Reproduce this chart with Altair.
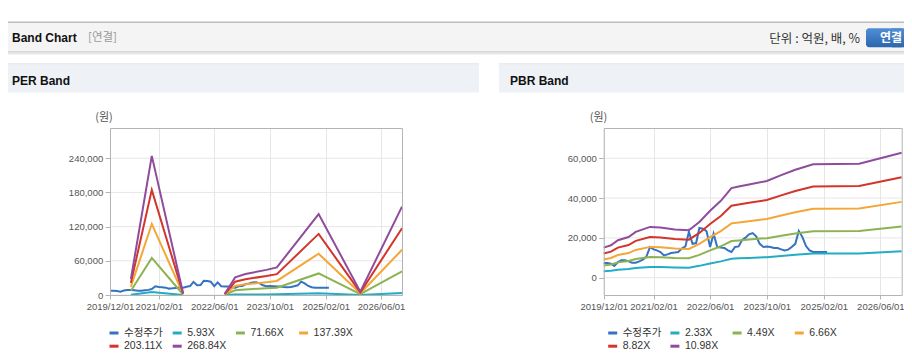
import altair as alt
import pandas as pd

FONT = "Liberation Sans, Noto Sans CJK KR, sans-serif"
KFONT = "Noto Sans CJK KR, Liberation Sans, sans-serif"
FRAME = "#b4b4b4"
GRID = "#e6e6e6"
LABEL = "#555555"

series_colors = ["#3472c2", "#22adc5", "#8db350", "#f4a637", "#d3342b", "#8f4c9c"]

# ---------------- x axis ----------------
x_start = (2019, 12, 1)
x_end = (2026, 12, 1)
tick_dates = [(2019, 12, 1), (2021, 2, 1), (2022, 6, 1), (2023, 10, 1), (2025, 2, 1), (2026, 6, 1)]

# ---------------- adjusted price (monthly from 2019-12) ----------------
price_start = "2019-12-01"
price = [7400, 7400, 7000, 5900, 7900, 8700, 8700, 8200, 7500, 7500,
         8200, 9000, 10500, 15400, 14200, 13700, 12900, 11200, 11700, 12400,
         12600, 12900, 14600, 15700, 23000, 17000, 17400, 25000, 24600, 23400,
         15400, 22100, 15400, 15100, 14900, 13700, 12900, 15400, 15700, 18800,
         20100, 21800, 22400, 20800, 17000, 15400, 15700, 15400, 14900, 14900,
         14200, 13700, 14100, 15400, 17000, 23400, 20400, 15900, 13700, 12900,
         12900, 12900, 12900, 12900]

# ---------------- PER band ----------------
per_names = ["수정주가", "5.93X", "71.66X", "137.39X", "203.11X", "268.84X"]
per_seg1_dates = ["2020-06-01", "2020-12-01", "2021-09-01"]
per_seg2_dates = ["2022-09-01", "2022-12-01", "2023-03-01", "2023-09-01",
                  "2023-12-01", "2024-12-01", "2025-12-01", "2026-12-01"]
per_593 = [[600, 5400, 100], [50, 700, 800, 1000, 1100, 3100, 130, 3400]]
per_7166 = [[7500, 65100, 900], [600, 8200, 9800, 11800, 12900, 37800, 1600, 41300]]
per_13739 = [[14400, 124700, 1600], [1100, 15800, 18800, 22500, 24700, 72500, 3000, 79300]]
per_20311 = [[21300, 184400, 2400], [1600, 23400, 27800, 33300, 36600, 107200, 4500, 117200]]
per_26884 = [[28200, 244100, 3200], [2200, 30900, 36800, 44100, 48400, 141900, 5900, 155100]]
per_yticks = [0, 60000, 120000, 180000, 240000]
per_ydomain = [0, 293000]

# ---------------- PBR band ----------------
pbr_names = ["수정주가", "2.33X", "4.49X", "6.66X", "8.82X", "10.98X"]
pbr_dates = ["2019-12-01", "2020-02-01", "2020-04-01", "2020-07-01", "2020-09-01",
             "2021-01-01", "2021-04-01", "2021-08-01", "2021-12-01", "2022-03-01",
             "2022-06-01", "2022-09-01", "2022-12-01", "2023-02-01", "2023-05-01",
             "2023-10-01", "2024-02-01", "2024-06-01", "2024-11-01", "2025-12-01",
             "2026-12-01"]
pbr_233 = [3200, 3460, 3990, 4330, 4880, 5410, 5350, 5140, 5050, 5940, 7130,
           8190, 9550, 9720, 9930, 10310, 10930, 11500, 12100, 12160, 13330]
pbr_449 = [6170, 6670, 7690, 8340, 9410, 10430, 10310, 9900, 9730, 11450, 13740,
           15780, 18400, 18730, 19140, 19870, 21060, 22160, 23310, 23430, 25680]
pbr_666 = [9160, 9890, 11400, 12370, 13950, 15470, 15290, 14680, 14440, 16980, 20380,
           23410, 27300, 27780, 28390, 29480, 31240, 32870, 34570, 34760, 38090]
pbr_882 = [12130, 13090, 15100, 16390, 18480, 20480, 20240, 19440, 19120, 22490, 26990,
           31010, 36150, 36790, 37590, 39040, 41370, 43540, 45790, 46030, 50450]
pbr_1098 = [15100, 16300, 18800, 20400, 23000, 25500, 25200, 24200, 23800, 28000, 33600,
            38600, 45000, 45800, 46800, 48600, 51500, 54200, 57000, 57300, 62800]
pbr_yticks = [0, 20000, 40000, 60000]
pbr_ydomain = [-8700, 75200]

# ---------------- build tables ----------------
price_dates = [d.strftime("%Y-%m-%d") for d in pd.date_range(price_start, periods=len(price), freq="MS")]


def price_rows():
    return [{"date": d, "value": v, "series": "수정주가", "seg": "p"} for d, v in zip(price_dates, price)]


rows = price_rows()
for name, vals in zip(per_names[1:], [per_593, per_7166, per_13739, per_20311, per_26884]):
    for d, v in zip(per_seg1_dates, vals[0]):
        rows.append({"date": d, "value": v, "series": name, "seg": "a"})
    for d, v in zip(per_seg2_dates, vals[1]):
        rows.append({"date": d, "value": v, "series": name, "seg": "b"})
per_df = pd.DataFrame(rows)

rows = price_rows()
for name, vals in zip(pbr_names[1:], [pbr_233, pbr_449, pbr_666, pbr_882, pbr_1098]):
    for d, v in zip(pbr_dates, vals):
        rows.append({"date": d, "value": v, "series": name, "seg": "a"})
pbr_df = pd.DataFrame(rows)

dummy = pd.DataFrame({"d": [0]})

# ---------------- geometry (page pixels -> view coords) ----------------
X0, Y0 = 110, 128          # page position of the plot origin
W_ALL, H = 792, 167        # view spans both panels
SVG_W, SVG_H = 896, 348    # stays inside the 8px page margins
RIGHT = 904                # right-most page pixel we can draw


def rx(p):
    return p - X0


def ry(p):
    return p - Y0


PER_RANGE = [0, 292]
PBR_RANGE = [rx(603.7), rx(901.7)]


def dt(t):
    return alt.DateTime(year=t[0], month=t[1], date=t[2], utc=True)


def rect(x1, x2, y1, y2, color, **kw):
    return alt.Chart(dummy).mark_rect(color=color, **kw).encode(
        x=alt.value(x1), x2=alt.value(x2), y=alt.value(y1), y2=alt.value(y2))


def label(t, x, y, **kw):
    return alt.Chart(dummy).mark_text(text=t, baseline="middle", **kw).encode(
        x=alt.value(x), y=alt.value(y))


def panel(df, names, ydomain, yticks, xrange, legend_x, y_offset):
    xscale = alt.Scale(type="utc", domain=[dt(x_start), dt(x_end)], range=xrange)
    yscale = alt.Scale(domain=ydomain, nice=False, zero=False, range=[H, 0])
    yaxis = alt.Axis(orient="left", offset=y_offset, values=yticks,
                     format=",.0f", title=None, domain=False, grid=False,
                     tickColor=FRAME, tickSize=5, labelPadding=2.3,
                     labelFont=FONT, labelFontSize=9.5, labelColor=LABEL)
    grid_df = pd.DataFrame({"value": yticks})
    grid = alt.Chart(grid_df).mark_rule(color=GRID, strokeWidth=1).encode(
        y=alt.Y("value:Q", scale=yscale, axis=yaxis),
        x=alt.value(xrange[0]), x2=alt.value(xrange[1]))
    frame = alt.Chart(dummy).mark_rect(fill="transparent", stroke=FRAME, strokeWidth=1).encode(
        x=alt.value(xrange[0] + 0.5), x2=alt.value(xrange[1] + 0.5),
        y=alt.value(0.5), y2=alt.value(H + 0.5))
    lines = alt.Chart(df).mark_line(strokeWidth=2).encode(
        x=alt.X("date:T", scale=xscale,
                axis=alt.Axis(orient="bottom", values=[dt(t) for t in tick_dates],
                              labelExpr="utcFormat(datum.value, '%Y/%m/%d')",
                              title=None, grid=True, gridColor=GRID,
                              domain=False, tickColor=FRAME, tickSize=4,
                              labelFont=FONT, labelFontSize=9.5, labelColor=LABEL,
                              labelBaseline="alphabetic", labelPadding=10.7,
                              labelFlush=False, labelOverlap=False)),
        y=alt.Y("value:Q", scale=yscale, axis=yaxis),
        color=alt.Color("series:N",
                        scale=alt.Scale(domain=names, range=series_colors),
                        legend=alt.Legend(title=None, orient="none", legendX=legend_x,
                                          legendY=H + 32, direction="horizontal",
                                          columns=4, symbolType="stroke", symbolSize=81,
                                          symbolStrokeWidth=3, labelFont=FONT,
                                          labelFontSize=10.5, labelColor="#333333",
                                          labelOffset=4, columnPadding=2.2,
                                          rowPadding=1.2, gridAlign="all", padding=0)),
        detail="seg:N",
    )
    return alt.layer(grid, lines, frame)


per_panel = panel(per_df, per_names, per_ydomain, per_yticks, PER_RANGE, -2, 0)
pbr_panel = panel(pbr_df, pbr_names, pbr_ydomain, pbr_yticks, PBR_RANGE,
                  rx(606.7), -PBR_RANGE[0])

button_fill = alt.Gradient(gradient="linear",
                           stops=[alt.GradientStop(color="#4f8fd6", offset=0),
                                  alt.GradientStop(color="#2c66ad", offset=1)],
                           x1=0, x2=0, y1=0, y2=1)

background = [
    rect(rx(8), rx(RIGHT), ry(21.5), ry(23), "#bcbcbc"),
    rect(rx(8), rx(RIGHT), ry(23), ry(51.5), "#f4f4f4"),
    rect(rx(8), rx(RIGHT), ry(51.5), ry(52.5), "#b8b8b8"),
    rect(rx(8), rx(RIGHT), ry(52.5), ry(54.5), "#e8e8e8"),
    rect(rx(8), rx(479), ry(63.5), ry(64.5), "#d8d8d8"),
    rect(rx(8), rx(479), ry(64.5), ry(92.5), "#eef2f7"),
    rect(rx(499), rx(RIGHT), ry(63.5), ry(64.5), "#d8d8d8"),
    rect(rx(499), rx(RIGHT), ry(64.5), ry(92.5), "#eef2f7"),
    rect(rx(866), rx(RIGHT), ry(28.3), ry(47.3), button_fill, cornerRadius=3),
    rect(rx(892), rx(RIGHT), ry(28.3), ry(47.3), button_fill),
]

texts = [
    label("Band Chart", rx(12), ry(38.3), align="left", font=FONT, fontSize=12,
          fontWeight="bold", color="#111111"),
    label("[연결]", rx(88), ry(38.3), align="left", font=KFONT, fontSize=11.5,
          color="#999999"),
    label("단위 : 억원, 배, %", rx(860), ry(39), align="right", font=KFONT,
          fontSize=12.5, color="#333333"),
    label("연결", rx(891), ry(38), align="center", font=KFONT, fontSize=12,
          fontWeight="bold", color="#ffffff"),
    label("PER Band", rx(12), ry(80.7), align="left", font=FONT, fontSize=12,
          fontWeight="bold", color="#111111"),
    label("PBR Band", rx(510), ry(80.7), align="left", font=FONT, fontSize=12,
          fontWeight="bold", color="#111111"),
    label("(원)", rx(104), ry(118), align="center", font=KFONT, fontSize=11,
          color="#555555"),
    label("(원)", rx(598.5), ry(118), align="center", font=KFONT, fontSize=11,
          color="#555555"),
]

chart = alt.layer(*background, per_panel, pbr_panel, *texts).resolve_scale(
    x="independent", y="independent", color="independent"
).properties(
    width=W_ALL, height=H,
    autosize=alt.AutoSizeParams(type="none"),
    padding={"left": X0 - 8, "top": Y0 - 8, "right": SVG_W - (X0 - 8) - W_ALL,
             "bottom": SVG_H - (Y0 - 8) - H},
).configure_view(stroke=None)

chart.save("out.html", embed_options={"renderer": "svg", "actions": False})
